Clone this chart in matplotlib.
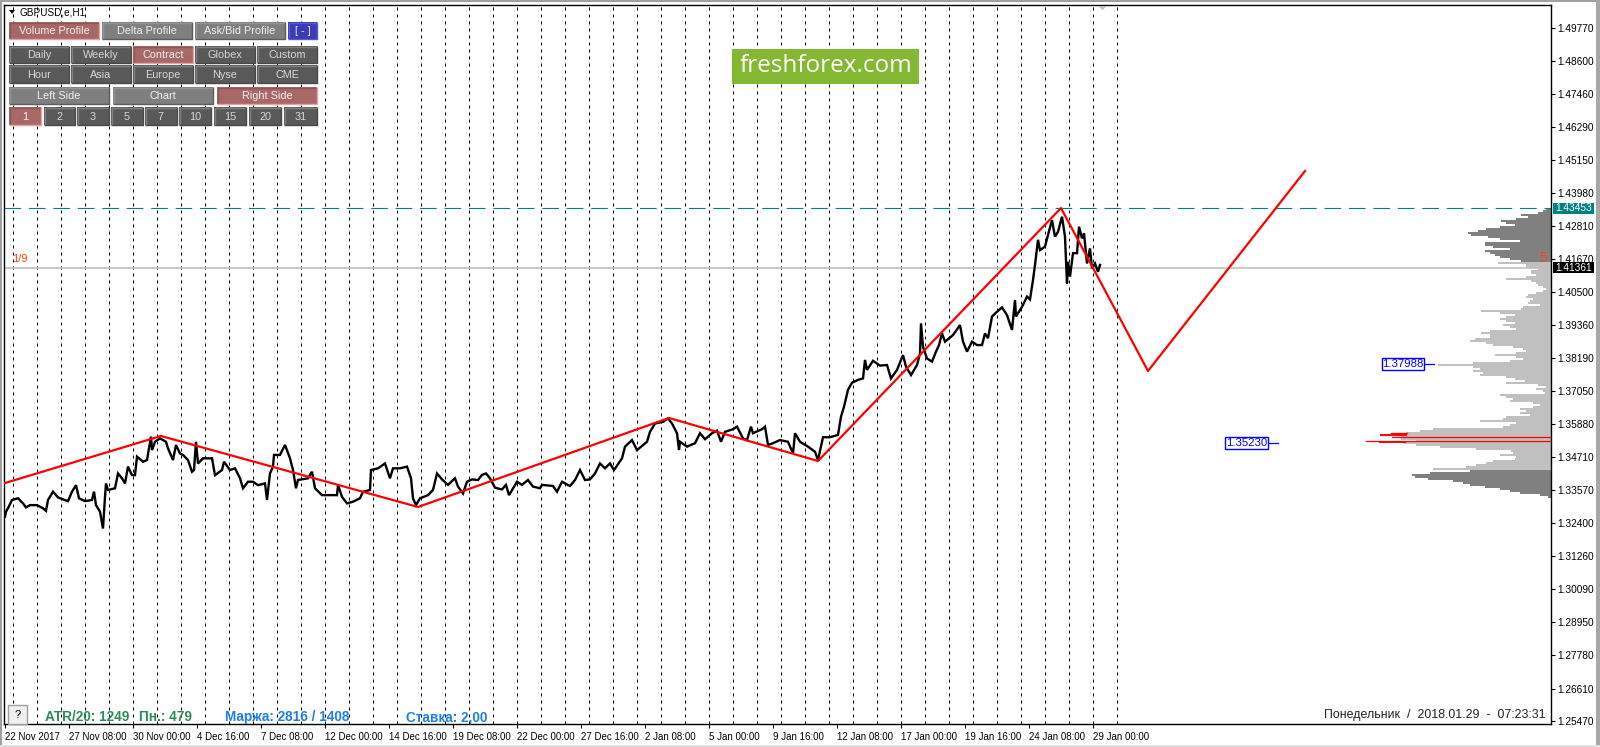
import matplotlib
matplotlib.use('Agg') # Force non-GUI backend
import matplotlib.pyplot as plt
from matplotlib.patches import Rectangle, Polygon
import numpy as np

plt.rcParams['font.family'] = ['Liberation Sans', 'DejaVu Sans']

# hourly bars, one bar is one pixel wide on this chart
price_bars = [5,6,8,12,18,23,26,30,37,43,46,48,53,58,63,68,72,76,79,85,92,94,96,100,103,105,106,108,115,118,122,125,128,132,135,137,143,147,151,152,155,160,166,168,173,176,180,183,188,192,194,196,198,203,212,215,222,224,230,235,240,243,248,253,258,265,267,270,273,274,280,285,290,293,296,298,308,312,315,322,328,337,338,342,347,353,360,363,370,371,378,385,390,393,400,407,411,413,416,
  420,428,433,437,442,448,455,458,463,467,472,478,482,486,490,495,502,506,509,517,522,528,533,540,542,553,557,562,570,575,580,585,590,595,600,605,610,614,622,625,632,637,647,650,655,663,668,672,677,679,680,687,695,700,705,712,717,721,725,733,737,743,747,751,753,762,765,768,773,780,788,793,795,800,808,815,818,
  823,830,838,841,844,848,852,858,863,865,867,873,880,887,891,897,899,903,906,911,917,920,921,923,927,932,936,939,942,945,953,960,963,967,972,977,982,985,988,992,997,1002,1007,1012,1015,1016,1022,1027,1030,1033,1035,1038,1040,1045,1048,1052,1055,1058,1062,1065,1067,1068,1070,1073,1077,1079,1082,1084,1087,1090,1092,1095,1098,1100]
price_close = [1.3263,1.3281,1.3293,1.3322,1.3328,1.3310,1.3296,1.3304,1.3304,1.3293,1.3284,1.3322,1.3351,1.3331,1.3324,1.3318,1.3351,1.3374,1.3328,1.3318,1.3322,1.3351,1.3304,1.3281,1.3222,1.3333,1.3380,1.3357,1.3363,1.3415,1.3398,1.3380,1.3439,1.3409,1.3409,1.3474,1.3456,1.3462,1.3544,1.3497,1.3526,1.3538,1.3526,1.3503,1.3462,1.3515,1.3485,1.3480,1.3462,1.3421,1.3427,1.3526,1.3450,1.3468,1.3468,1.3409,1.3427,1.3456,1.3427,1.3433,1.3398,1.3363,1.3386,1.3386,1.3374,1.3380,1.3322,1.3415,1.3439,1.3480,1.3480,1.3515,1.3468,1.3427,1.3363,1.3392,1.3398,1.3421,1.3363,1.3339,1.3339,1.3339,1.3374,1.3333,1.3310,1.3316,1.3328,1.3351,1.3357,1.3427,1.3433,1.3450,1.3398,1.3433,1.3433,1.3439,1.3398,1.3328,1.3304,
  1.3328,1.3339,1.3357,1.3415,1.3394,1.3375,1.3398,1.3369,1.3345,1.3386,1.3394,1.3392,1.3410,1.3415,1.3398,1.3365,1.3359,1.3375,1.3339,1.3386,1.3375,1.3392,1.3369,1.3363,1.3375,1.3371,1.3351,1.3386,1.3371,1.3392,1.3427,1.3392,1.3394,1.3415,1.3450,1.3433,1.3450,1.3427,1.3468,1.3509,1.3532,1.3497,1.3526,1.3561,1.3590,1.3596,1.3608,1.3590,1.3556,1.3497,1.3526,1.3509,1.3521,1.3556,1.3535,1.3556,1.3565,1.3526,1.3561,1.3570,1.3579,1.3538,1.3532,1.3579,1.3556,1.3570,1.3579,1.3515,1.3521,1.3532,1.3526,1.3485,1.3556,1.3526,1.3509,1.3491,1.3462,
  1.3542,1.3542,1.3550,1.3614,1.3649,1.3708,1.3733,1.3743,1.3748,1.3813,1.3778,1.3810,1.3793,1.3795,1.3748,1.3778,1.3795,1.3830,1.3789,1.3760,1.3795,1.3836,1.3941,1.3859,1.3818,1.3807,1.3842,1.3865,1.3906,1.3877,1.3900,1.3935,1.3877,1.3842,1.3877,1.3865,1.3865,1.3906,1.3889,1.3965,1.3982,1.3997,1.3970,1.3918,1.4023,1.3965,1.3999,1.4035,1.4025,1.4093,1.4146,1.4234,1.4198,1.4210,1.4251,1.4303,1.4245,1.4262,1.4315,1.4245,1.4081,1.4157,1.4105,1.4187,1.4187,1.4280,1.4239,1.4257,1.4151,1.4204,1.4134,1.4151,1.4122,1.4146]

zigzag_bars = [5, 161, 418, 669, 818, 1061, 1148, 1305]
zigzag_price = [1.33815, 1.35463, 1.32974, 1.36094, 1.34586, 1.43453, 1.37741, 1.44751]

price_ticks = [1.49770,1.48600,1.47460,1.46290,1.45150,1.43980,1.42810,1.41670,1.40500,1.39360,1.38190,1.37050,1.35880,1.34710,1.33570,1.32400,1.31260,1.30090,1.28950,1.27780,1.26610,1.25470]
time_ticks = [5,69,133,197,261,325,389,453,517,581,645,709,773,837,901,965,1029,1093]
time_labels = ['22 Nov 2017','27 Nov 08:00','30 Nov 00:00','4 Dec 16:00','7 Dec 08:00','12 Dec 00:00','14 Dec 16:00','19 Dec 08:00','22 Dec 00:00','27 Dec 16:00','2 Jan 08:00','5 Jan 00:00','9 Jan 16:00','12 Jan 08:00','17 Jan 00:00','19 Jan 16:00','24 Jan 08:00','29 Jan 00:00']
day_lines = [13 + 24 * k for k in range(47)]

high_price = 1.43453
last_price = 1.41361
poc_prices = [1.3543, 1.3529]
poc_starts = [1392, 1366]
level_labels = [1.37988, 1.35230]

# volume profile rows, top to bottom, two pixels a row
vol_top = [5,8,13,30,23,35,50,45,36,51,65,73,83,80,63,51,31,66,66,58,41,66,61,56,51,41,30]
vol_mid = [53,25,25,13,20,20,15,25,45,20,15,13,8,5,8,15,23,25,18,21,23,11,28,30,70,51,36,45,51,45,36,48,41,35,61,70,61,61,76,81,65,58,38,28,
  25,35,56,35,28,41,78,113,78,71,78,68,71,45,36,26,45,13,5,15,8,6,51,45,38,41,18,11,18,31,25,31,21,45,48,71,35,41,48,118,131,145,146,150,150,135,148,135,111,75,40,38,51,35,36,58,65,75,85,118]
vol_bottom = [81,121,139,136,123,98,88,81,66,51,41,31,11,3]

PX = 2853.0  # pixels per 1.0 of price
XMIN, XMAX = 4, 1551
YTOP = 1.4398 + 188 / PX
YBOT = 1.4398 - 531 / PX

fig = plt.figure(figsize=(16, 7.47), dpi=100, facecolor='white')
ax = fig.add_axes([XMIN / 1600, 1 - 724 / 747, (XMAX - XMIN) / 1600, 719 / 747])
ax.set_xlim(XMIN, XMAX)
ax.set_ylim(YBOT, YTOP)

for x in day_lines:
  ax.axvline(x, color='black', lw=0.72, ls=(0, (3, 4)), zorder=1)

# profile
vols = np.array(vol_top + vol_mid + vol_bottom)
levels = 1.43408 - np.arange(len(vols)) * 2 / PX
colors = ['#808080'] * len(vol_top) + ['#c0c0c0'] * len(vol_mid) + ['#808080'] * len(vol_bottom)
ax.barh(levels, vols, left=XMAX - vols, height=2 / PX, color=colors, lw=0, zorder=2)

ax.axhline(last_price, color='#c0c0c0', lw=1.2, zorder=2)
ax.axhline(high_price, color='#008080', lw=0.8, ls=(0, (15, 7)), zorder=2)

ax.plot(price_bars, price_close, color='black', lw=1.7, zorder=3, solid_joinstyle='miter')
ax.plot(zigzag_bars, zigzag_price, color='#ff0000', lw=1.6, zorder=4)

# point of control rows
for p, start in zip(poc_prices, poc_starts):
  ax.plot([start, XMAX], [p, p], color='#ff0000', lw=0.9, zorder=4)
ax.plot([1381, 1406], [1.3549, 1.3549], color='#ff0000', lw=1.4, zorder=4)
ax.plot([1391, 1407], [1.3556, 1.3556], color='#ff0000', lw=0.9, zorder=4)
ax.plot([1380, 1405], [1.3526, 1.3526], color='#ff0000', lw=1.4, zorder=4)

for p, x0, x1 in zip(level_labels, [1382, 1225], [1424, 1268]):
  ax.plot([x1, x1 + 10], [p, p], color='#0000ff', lw=0.9, zorder=4)
  ax.add_patch(Rectangle((x0, p - 6 / PX), x1 - x0, 12 / PX, fc='white', ec='#0000ff', lw=1, zorder=5))
  ax.text((x0 + x1) / 2, p, f"{p:.5f}", color='#0000ff', fontsize=8.2, ha='center', va='center', zorder=6)

ax.yaxis.tick_right()
ax.set_yticks(price_ticks)
ax.set_yticklabels([f"{p:.5f}" for p in price_ticks], fontsize=7.3, color='black')
ax.set_xticks(time_ticks)
ax.set_xticklabels(time_labels, fontsize=7.0, ha='left')
ax.tick_params(axis='y', length=3, width=0.8, pad=1.5)
ax.tick_params(axis='x', length=3, width=0.8, pad=3)
for s in ax.spines.values():
  s.set_linewidth(1)

# price flags on the right scale
for p, col in [(high_price, '#008080'), (last_price, 'black')]:
  ax.add_patch(Rectangle((1553, p - 5.5 / PX), 41, 11 / PX, fc=col, ec='none', clip_on=False, zorder=6))
  ax.text(1573.5, p, f"{p:.5f}", color='white', fontsize=7.3, ha='center', va='center', clip_on=False, zorder=7)

# overlay in screen pixels for the terminal panel
ui = fig.add_axes([0, 0, 1, 1], facecolor='none')
ui.set_xlim(0, 1600)
ui.set_ylim(747, 0)
ui.axis('off')

def button(x0, x1, y0, y1, label, kind):
  face, tl, br, tc = {
    'dark': ('#595959', '#808080', '#484848', '#d8d8d8'),
    'grey': ('#7f7f7f', '#949494', '#5c5c5c', '#f0f0f0'),
    'red': ('#a86868', '#8c5656', '#e5a3a3', '#f0f0f0'),
    'blue': ('#3c3cb4', '#5a5ad8', '#5a5ad8', '#f0f0f0'),
  }[kind]
  ui.add_patch(Rectangle((x0, y0), x1 - x0, y1 - y0, fc=face, ec='none', zorder=2))
  ui.plot([x0 + 0.5, x0 + 0.5, x1], [y1, y0 + 0.5, y0 + 0.5], color=tl, lw=1.0, zorder=3, solid_capstyle='butt')
  ui.plot([x0, x1 - 0.5, x1 - 0.5], [y1 - 0.5, y1 - 0.5, y0], color=br, lw=1.0, zorder=3, solid_capstyle='butt')
  ui.text((x0 + x1) / 2, (y0 + y1) / 2 + 0.5, label, color=tc, fontsize=7.8, ha='center', va='center', zorder=4)

for x0, x1, lab, kind in [(9, 99, 'Volume Profile', 'red'), (102, 192, 'Delta Profile', 'grey'), (195, 285, 'Ask/Bid Profile', 'grey'), (288, 317, '[ - ]', 'blue')]:
  button(x0, x1, 22, 39, lab, kind)
col_x = [(9, 69), (71, 131), (133, 193), (195, 255), (257, 317)]
for (x0, x1), lab in zip(col_x, ['Daily', 'Weekly', 'Contract', 'Globex', 'Custom']):
  button(x0, x1, 46, 63, lab, 'red' if lab == 'Contract' else 'dark')
for (x0, x1), lab in zip(col_x, ['Hour', 'Asia', 'Europe', 'Nyse', 'CME']):
  button(x0, x1, 65, 83, lab, 'dark')
for x0, x1, lab, kind in [(9, 109, 'Left Side', 'grey'), (113, 213, 'Chart', 'grey'), (217, 317, 'Right Side', 'red')]:
  button(x0, x1, 87, 104, lab, kind)
day_x = [(9, 41), (44, 75), (77, 109), (111, 143), (145, 177), (179, 211), (214, 246), (249, 281), (284, 317)]
for (x0, x1), lab in zip(day_x, ['1', '2', '3', '5', '7', '10', '15', '20', '31']):
  button(x0, x1, 107, 125, lab, 'red' if lab == '1' else 'dark')

ui.add_patch(Polygon([[9, 10], [15, 10], [12, 14]], fc='black', ec='none'))
ui.text(20, 12.5, 'GBPUSD,e,H1', fontsize=7.2, color='black', va='center')

ui.add_patch(Rectangle((732, 49), 187, 35, fc='#85b832', ec='none', zorder=2))
ui.text(825.5, 66, 'freshforex.com', color='white', fontsize=17.5, family='Open Sans', ha='center', va='center', zorder=3)

ui.add_patch(Polygon([[1098, 6], [1107, 6], [1102.5, 10]], fc='#c0c0c0', ec='none'))

ui.text(12, 259, '1/9', color='#ff4500', fontsize=8, va='center')
ui.text(1543, 258, '5', color='#ff4500', fontsize=10, ha='center', va='center')

ui.add_patch(Rectangle((8, 705), 19, 19, fc='#f0f0f0', ec='#a0a0a0', lw=1, zorder=2))
ui.text(17.5, 715, '?', fontsize=8, color='black', ha='center', va='center', zorder=3)
ui.text(45, 717, 'ATR/20: 1249', color='#2e8b57', fontsize=9.8, fontweight='bold', va='center')
ui.text(139, 717, 'Пн.: 479', color='#2e8b57', fontsize=9.8, fontweight='bold', va='center')
ui.text(225, 717, 'Маржа: 2816 / 1408', color='#1e7fe8', fontsize=9.8, fontweight='bold', va='center')
ui.text(406, 717, 'Ставка: 2,00', color='#1e7fe8', fontsize=9.8, fontweight='bold', va='center')
ui.text(1546, 715, 'Понедельник  /  2018.01.29  -  07:23:31', color='#222222', fontsize=8.9, ha='right', va='center')

# window edges
ui.add_patch(Rectangle((0, 0), 1600, 2, fc='#a0a0a0', ec='none'))
ui.add_patch(Rectangle((0, 0), 2, 747, fc='#a0a0a0', ec='none'))
ui.add_patch(Rectangle((1596, 0), 4, 747, fc='#a8a8a8', ec='none'))
ui.add_patch(Rectangle((0, 745), 1600, 2, fc='#e0e0e0', ec='none'))

fig.savefig('out.png', dpi=100)
plt.close(fig)
